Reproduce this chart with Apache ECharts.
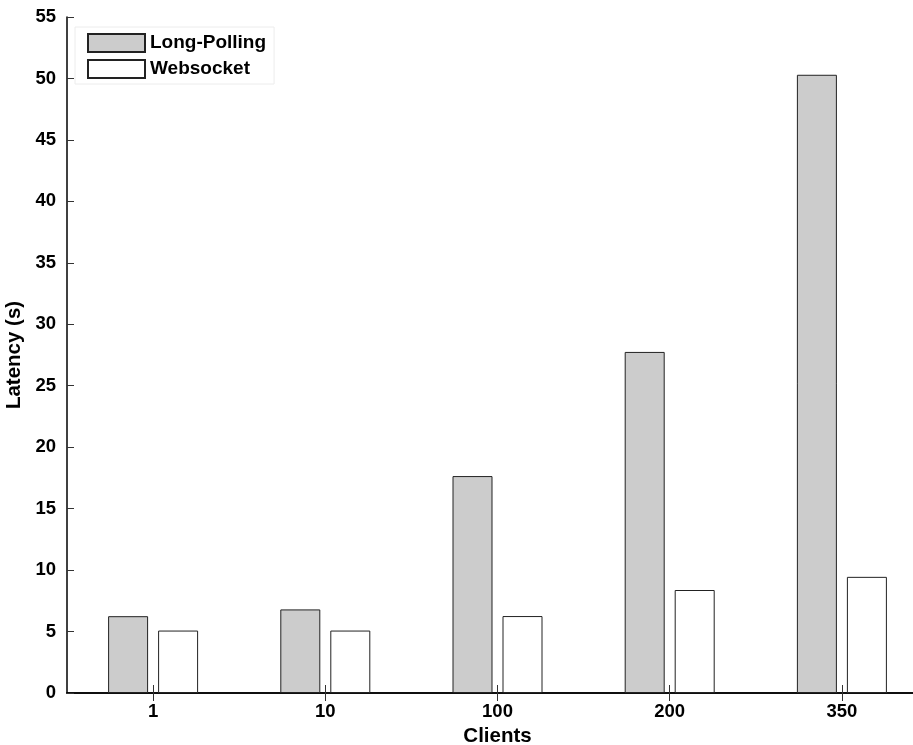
<!DOCTYPE html>
<html>
<head>
<meta charset="utf-8">
<script src="https://cdn.jsdelivr.net/npm/echarts@6/dist/echarts.min.js"></script>
<style>
  html, body { margin: 0; padding: 0; background: #fff; }
  #chart { width: 913px; height: 745px; }
</style>
</head>
<body>
<div id="chart"></div>
<script>
// Client counts on the x axis
var clients = ['1', '10', '100', '200', '350'];
// Mean latency in seconds per transport
var longPolling = [6.25, 6.8, 17.65, 27.75, 50.3];
var websocket = [5.08, 5.08, 6.26, 8.38, 9.45];
// Latency axis ticks
var yMin = 0, yMax = 55, yStep = 5;

var FONT = '"Liberation Sans", Arial, Helvetica, sans-serif';

var chart = echarts.init(document.getElementById('chart'), null, { renderer: 'canvas' });

var axisLine = { show: true, lineStyle: { color: '#000', width: 1.5 } };
var tickStyle = { color: '#333', width: 1 };

chart.setOption({
  animation: false,
  backgroundColor: '#fff',
  grid: { left: 67, top: 17, bottom: 52, right: -15, containLabel: false, outerBoundsMode: 'none' },
  legend: {
    orient: 'vertical',
    left: 75,
    top: 27,
    padding: [6, 8, 5, 12],
    itemGap: 6,
    itemWidth: 57,
    itemHeight: 18,
    icon: 'rect',
    borderColor: '#ececec',
    borderWidth: 1,
    backgroundColor: '#fff',
    textStyle: { fontFamily: FONT, fontWeight: 'bold', fontSize: 19, color: '#000' },
    data: ['Long-Polling', 'Websocket']
  },
  xAxis: [{
    type: 'category',
    data: clients,
    position: 'bottom',
    name: 'Clients',
    nameLocation: 'middle',
    nameGap: 32,
    nameTextStyle: { fontFamily: FONT, fontWeight: 'bold', fontSize: 20.5, color: '#000' },
    axisLine: axisLine,
    axisTick: { show: true, inside: true, length: 8, alignWithLabel: true, lineStyle: tickStyle },
    axisLabel: { fontFamily: FONT, fontWeight: 'bold', fontSize: 18.5, color: '#000', margin: 9 },
    splitLine: { show: false }
  }, {
    type: 'category',
    data: clients,
    position: 'top',
    axisLine: axisLine,
    axisTick: { show: true, inside: true, length: 8, alignWithLabel: true, lineStyle: tickStyle },
    axisLabel: { show: false },
    splitLine: { show: false }
  }],
  yAxis: [{
    type: 'value',
    min: yMin,
    max: yMax,
    interval: yStep,
    position: 'left',
    name: 'Latency (s)',
    nameLocation: 'middle',
    nameGap: 39,
    nameTextStyle: { fontFamily: FONT, fontWeight: 'bold', fontSize: 20.5, color: '#000' },
    axisLine: axisLine,
    axisTick: { show: true, inside: true, length: 7, lineStyle: tickStyle },
    axisLabel: { fontFamily: FONT, fontWeight: 'bold', fontSize: 18.5, color: '#000', margin: 11 },
    splitLine: { show: false }
  }, {
    type: 'value',
    min: yMin,
    max: yMax,
    interval: yStep,
    position: 'right',
    axisLine: axisLine,
    axisTick: { show: true, inside: true, length: 7, lineStyle: tickStyle },
    axisLabel: { show: false },
    splitLine: { show: false }
  }],
  series: [{
    name: 'Long-Polling',
    type: 'bar',
    data: longPolling,
    barWidth: 40,
    barGap: '25%',
    itemStyle: { color: '#cccccc', borderColor: '#222', borderWidth: 1 }
  }, {
    name: 'Websocket',
    type: 'bar',
    data: websocket,
    barWidth: 40,
    barGap: '25%',
    itemStyle: { color: '#ffffff', borderColor: '#222', borderWidth: 1 }
  }]
});
</script>
</body>
</html>
